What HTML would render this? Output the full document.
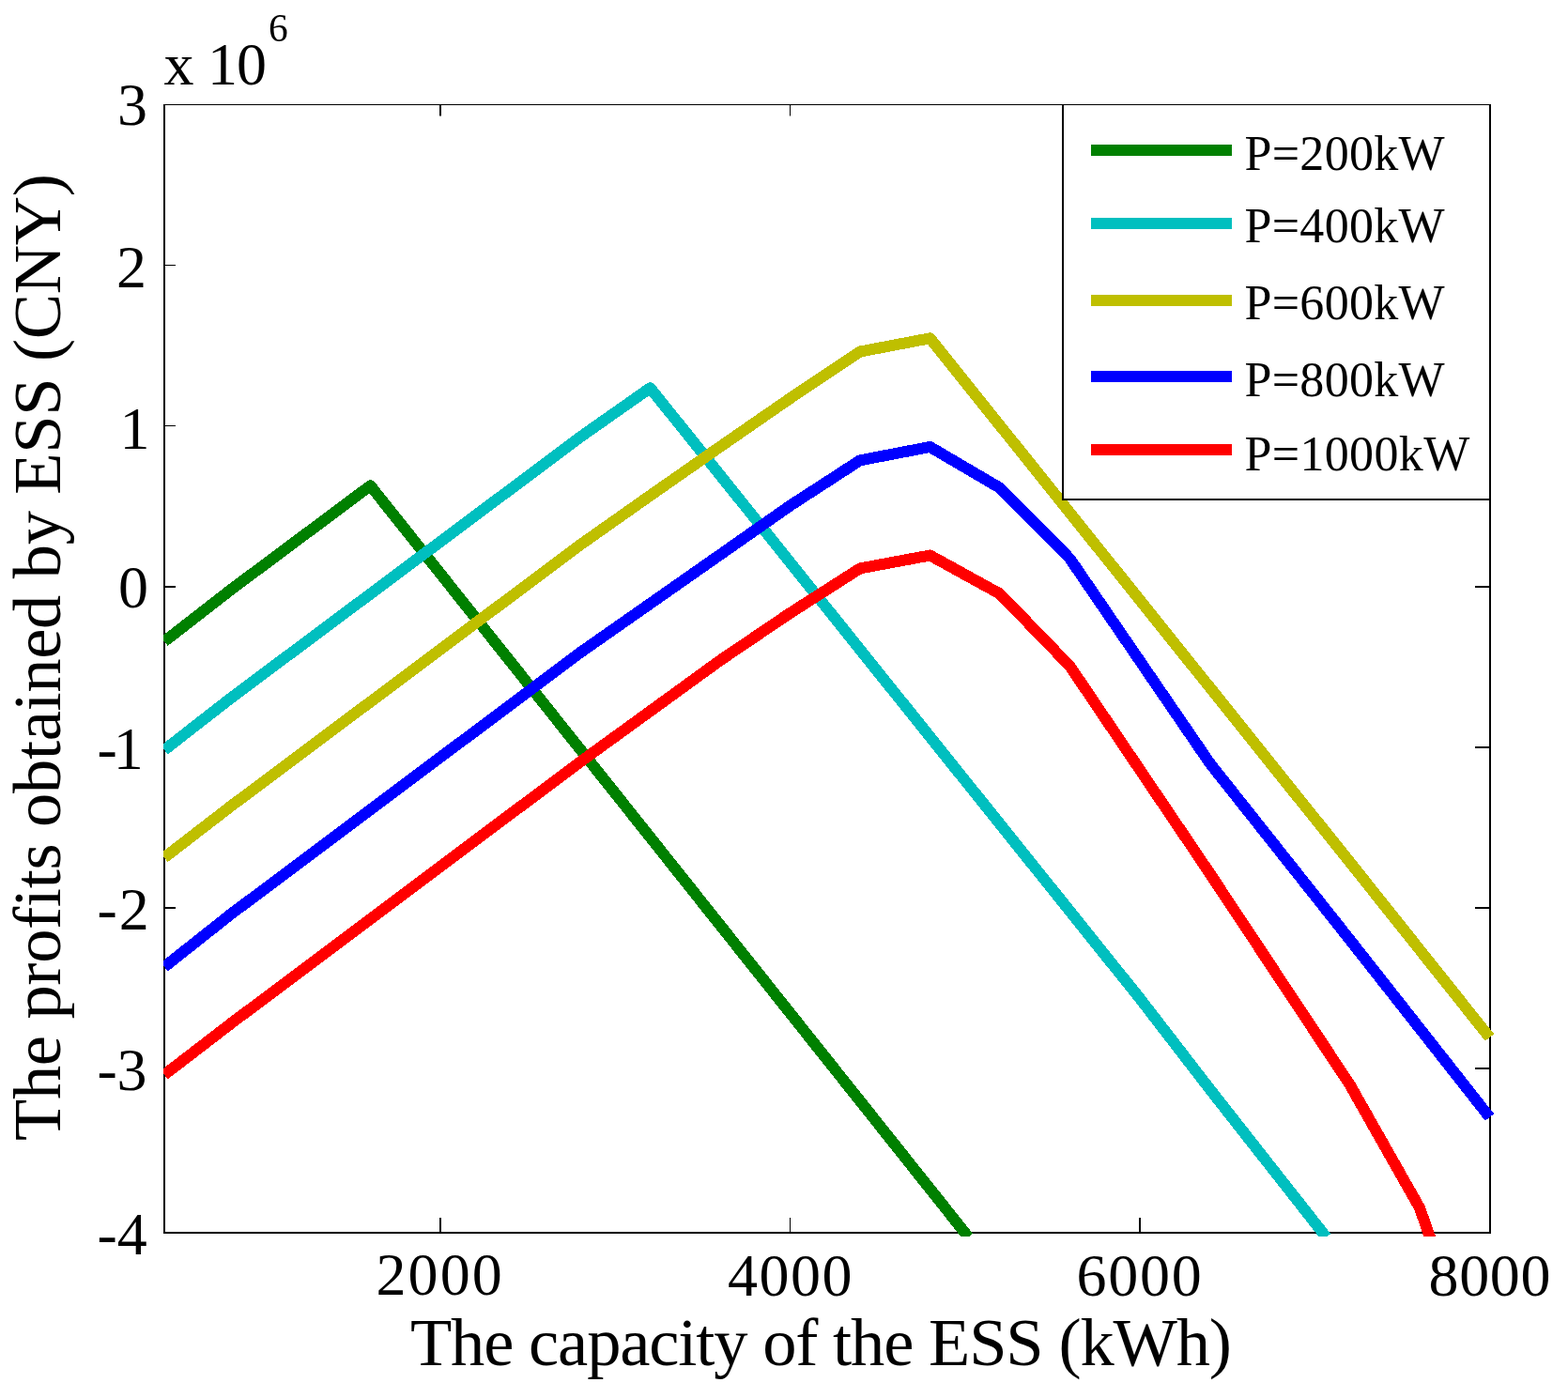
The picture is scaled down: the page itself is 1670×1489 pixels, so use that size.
<!DOCTYPE html>
<html><head><meta charset="utf-8"><title>The profits obtained by ESS vs capacity</title>
<style>html,body{margin:0;padding:0;background:#fff;overflow:hidden}svg{display:block}</style>
</head><body>
<svg xmlns="http://www.w3.org/2000/svg" width="1670" height="1489" viewBox="0 0 1670 1489">
<rect x="0" y="0" width="1670" height="1489" fill="#ffffff"/>
<defs><clipPath id="cp"><rect x="174" y="100" width="1430" height="1217"/></clipPath></defs>
<g stroke="#000" fill="none">
<line x1="175" y1="111" x2="175" y2="1314" stroke-width="2"/>
<line x1="1587" y1="111" x2="1587" y2="1314" stroke-width="2"/>
<line x1="174" y1="111.5" x2="1588" y2="111.5" stroke-width="1"/>
<line x1="174" y1="1313" x2="1588" y2="1313" stroke-width="2"/>
<line x1="469" y1="1312" x2="469" y2="1297" stroke-width="2"/>
<line x1="469" y1="112" x2="469" y2="123.5" stroke-width="2"/>
<line x1="841.5" y1="1312" x2="841.5" y2="1297" stroke-width="1"/>
<line x1="841.5" y1="112" x2="841.5" y2="123.5" stroke-width="1"/>
<line x1="1214" y1="1312" x2="1214" y2="1297" stroke-width="2"/>
<line x1="1214" y1="112" x2="1214" y2="123.5" stroke-width="2"/>
<line x1="176" y1="282.5" x2="187" y2="282.5" stroke-width="1"/>
<line x1="1586" y1="282.5" x2="1571" y2="282.5" stroke-width="1"/>
<line x1="176" y1="453.5" x2="187" y2="453.5" stroke-width="1"/>
<line x1="1586" y1="453.5" x2="1571" y2="453.5" stroke-width="1"/>
<line x1="176" y1="625" x2="187" y2="625" stroke-width="2"/>
<line x1="1586" y1="625" x2="1571" y2="625" stroke-width="2"/>
<line x1="176" y1="796" x2="187" y2="796" stroke-width="2"/>
<line x1="1586" y1="796" x2="1571" y2="796" stroke-width="2"/>
<line x1="176" y1="967" x2="187" y2="967" stroke-width="2"/>
<line x1="1586" y1="967" x2="1571" y2="967" stroke-width="2"/>
<line x1="176" y1="1138" x2="187" y2="1138" stroke-width="2"/>
<line x1="1586" y1="1138" x2="1571" y2="1138" stroke-width="2"/>
</g>
<g clip-path="url(#cp)" fill="none" stroke-width="12" stroke-linejoin="round" stroke-linecap="butt" shape-rendering="crispEdges">
<polyline points="175.00,683.20 245.50,628.40 394.50,517.30 1031.44,1317.69" stroke="#008000"/>
<polyline points="175.00,798.80 245.50,743.80 543.50,521.30 618.00,465.50 692.50,413.20 1214.00,1063.40 1288.50,1160.00 1412.51,1317.72" stroke="#00bfbf"/>
<polyline points="175.00,913.40 245.50,859.00 618.00,580.30 692.50,527.80 767.00,475.80 841.50,424.30 916.00,374.50 990.50,360.30 1437.50,918.00 1586.50,1105.00" stroke="#bfbf00"/>
<polyline points="175.00,1029.80 245.50,974.00 469.00,806.60 618.00,695.10 767.00,590.80 841.50,538.60 916.00,490.30 990.50,476.00 1065.00,519.70 1139.50,595.00 1288.50,812.80 1437.50,1000.70 1586.50,1190.00" stroke="#0000ff"/>
<polyline points="175.00,1144.70 245.50,1090.50 469.00,923.00 618.00,811.50 767.00,703.40 841.50,653.00 916.00,605.40 990.50,591.50 1065.00,632.50 1139.50,709.50 1288.50,930.20 1437.50,1155.00 1512.00,1286.50 1523.29,1318.66" stroke="#ff0000"/>
</g>
<g font-family="'Liberation Serif', 'Times New Roman', serif" fill="#000">
<text x="125.00" y="133.00" font-size="64" xml:space="preserve">3</text>
<text x="124.00" y="305.50" font-size="64" xml:space="preserve">2</text>
<text x="127.50" y="477.50" font-size="64" xml:space="preserve">1</text>
<text x="126.00" y="647.00" font-size="64" xml:space="preserve">0</text>
<text x="103.50" y="818.50" font-size="64" textLength="49.31" lengthAdjust="spacing" xml:space="preserve">-1</text>
<text x="103.50" y="990.00" font-size="64" textLength="55.31" lengthAdjust="spacing" xml:space="preserve">-2</text>
<text x="103.50" y="1160.50" font-size="64" textLength="52.91" lengthAdjust="spacing" xml:space="preserve">-3</text>
<text x="103.50" y="1336.00" font-size="64" textLength="53.31" lengthAdjust="spacing" xml:space="preserve">-4</text>
<text x="400.50" y="1379.00" font-size="64" textLength="134.20" lengthAdjust="spacing" xml:space="preserve">2000</text>
<text x="775.00" y="1380.00" font-size="64" textLength="132.40" lengthAdjust="spacing" xml:space="preserve">4000</text>
<text x="1146.50" y="1380.00" font-size="64" textLength="133.20" lengthAdjust="spacing" xml:space="preserve">6000</text>
<text x="1521.50" y="1380.00" font-size="64" textLength="130.00" lengthAdjust="spacing" xml:space="preserve">8000</text>
<text x="174.50" y="90.00" font-size="64" textLength="109.60" lengthAdjust="spacing" xml:space="preserve">x 10</text>
<text x="286.00" y="44.00" font-size="41.5" xml:space="preserve">6</text>
<text x="437.00" y="1454.00" font-size="72.5" textLength="874.95" lengthAdjust="spacing" xml:space="preserve">The capacity of the ESS (kWh)</text>
<text transform="translate(64.00,1215.00) rotate(-90)" x="0" y="0" font-size="72.5" textLength="1030.00" lengthAdjust="spacing">The profits obtained by ESS (CNY)</text>
</g>
<rect x="1132" y="112" width="454" height="419" fill="#fff" stroke="none"/>
<line x1="1132" y1="111" x2="1132" y2="533" stroke="#000" stroke-width="2"/>
<line x1="1131" y1="532" x2="1588" y2="532" stroke="#000" stroke-width="2"/>
<line x1="1162" y1="160" x2="1312" y2="160" stroke="#008000" stroke-width="12"/>
<line x1="1162" y1="238" x2="1312" y2="238" stroke="#00bfbf" stroke-width="12"/>
<line x1="1162" y1="320" x2="1312" y2="320" stroke="#bfbf00" stroke-width="12"/>
<line x1="1162" y1="401" x2="1312" y2="401" stroke="#0000ff" stroke-width="12"/>
<line x1="1162" y1="479" x2="1312" y2="479" stroke="#ff0000" stroke-width="12"/>
<g font-family="'Liberation Serif', 'Times New Roman', serif" fill="#000">
<text x="1325.50" y="180.50" font-size="52" textLength="213.13" lengthAdjust="spacing" xml:space="preserve">P=200kW</text>
<text x="1325.50" y="258.00" font-size="52" textLength="213.13" lengthAdjust="spacing" xml:space="preserve">P=400kW</text>
<text x="1325.50" y="340.00" font-size="52" textLength="213.13" lengthAdjust="spacing" xml:space="preserve">P=600kW</text>
<text x="1325.50" y="422.00" font-size="52" textLength="213.13" lengthAdjust="spacing" xml:space="preserve">P=800kW</text>
<text x="1325.50" y="500.50" font-size="52" textLength="239.73" lengthAdjust="spacing" xml:space="preserve">P=1000kW</text>
</g>
</svg>
</body></html>
